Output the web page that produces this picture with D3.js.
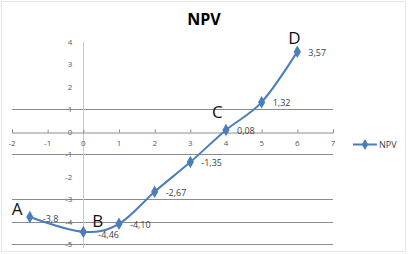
<html>
  <head>
    <script src="https://d3js.org/d3.v7.min.js"></script>
    <style>
      body { margin: 0; background: #fff; }
      text { font-family: "Open Sans", "DejaVu Sans", sans-serif; }
    </style>
  </head>
  <body>
    <svg width="410" height="254"></svg>
    <script>
      // data
      var xValues = [-1.5, 0, 1, 2, 3, 4, 5, 6];
      var npvValues = [-3.8, -4.46, -4.10, -2.67, -1.35, 0.08, 1.32, 3.57];
      var valueLabels = ["-3,8", "-4,46", "-4,10", "-2,67", "-1,35", "0,08", "1,32", "3,57"];
      var xTicks = [-2, -1, 0, 1, 2, 3, 4, 5, 6, 7];
      var yTicks = [-5, -4, -3, -2, -1, 0, 1, 2, 3, 4];
      var gridValues = [1, -1, -3, -4, -5];
      var pointNames = [{name: "A", i: 0}, {name: "B", i: 1}, {name: "C", i: 5}, {name: "D", i: 7}];

      var svg = d3.select("svg");
      var x = d3.scaleLinear().domain([-2, 7]).range([12, 333]);
      var y = d3.scaleLinear().domain([-5, 4]).range([244, 42]);
      var blue = "#4a7ebb";

      // frame
      svg.append("rect")
        .attr("x", 1.5).attr("y", 1.5)
        .attr("width", 404).attr("height", 250)
        .attr("fill", "none")
        .attr("stroke", "#e6e6e6");

      // title
      svg.append("text")
        .attr("x", 204).attr("y", 25)
        .attr("text-anchor", "middle")
        .attr("font-size", "16px")
        .attr("font-weight", "bold")
        .text("NPV");

      // gridlines
      svg.append("g").selectAll("line")
        .data(gridValues)
        .enter().append("line")
        .attr("x1", x(-2)).attr("x2", x(7))
        .attr("y1", function(d) { return Math.round(y(d)) + 0.5; })
        .attr("y2", function(d) { return Math.round(y(d)) + 0.5; })
        .attr("stroke", "#8c8c8c");

      // y axis line
      svg.append("line")
        .attr("x1", Math.round(x(0)) + 0.5).attr("x2", Math.round(x(0)) + 0.5)
        .attr("y1", y(4)).attr("y2", y(-5) + 4)
        .attr("stroke", "#c8c8c8");

      // y tick labels
      svg.append("g").selectAll("text")
        .data(yTicks)
        .enter().append("text")
        .attr("x", x(0) - 11)
        .attr("y", function(d) { return y(d) + 3; })
        .attr("text-anchor", "end")
        .attr("font-size", "8px")
        .attr("fill", "#595959")
        .text(function(d) { return d; });

      // x axis
      var xAxis = svg.append("g")
        .attr("transform", "translate(0," + (Math.round(y(0)) + 0.5) + ")")
        .call(d3.axisTop(x).tickValues(xTicks).tickSize(3).tickFormat(""));
      xAxis.select(".domain").attr("stroke", "#8c8c8c");
      xAxis.selectAll(".tick line").attr("stroke", "#8c8c8c");

      svg.append("g").selectAll("text")
        .data(xTicks)
        .enter().append("text")
        .attr("x", function(d) { return x(d); })
        .attr("y", y(0) + 14)
        .attr("text-anchor", "middle")
        .attr("font-size", "8px")
        .attr("fill", "#595959")
        .text(function(d) { return d; });

      // series
      var pts = xValues.map(function(d, i) { return [d, npvValues[i]]; });
      var line = d3.line()
        .x(function(d) { return x(d[0]); })
        .y(function(d) { return y(d[1]); })
        .curve(d3.curveCardinal.tension(0));
      svg.append("path")
        .datum(pts)
        .attr("d", line)
        .attr("fill", "none")
        .attr("stroke", blue)
        .attr("stroke-width", 2);

      svg.append("g").selectAll("path")
        .data(pts)
        .enter().append("path")
        .attr("transform", function(d) { return "translate(" + x(d[0]) + "," + y(d[1]) + ")"; })
        .attr("d", d3.symbol().type(d3.symbolDiamond).size(45))
        .attr("fill", blue);

      // value labels
      svg.append("g").selectAll("text")
        .data(pts)
        .enter().append("text")
        .attr("x", function(d, i) { return x(d[0]) + (i == 1 ? 15 : (i == 0 ? 13 : 11)); })
        .attr("y", function(d, i) { return y(d[1]) + (i == 1 ? 6 : (i == 0 ? 5 : 4)); })
        .attr("font-size", "9px")
        .attr("fill", "#404040")
        .text(function(d, i) { return valueLabels[i]; });

      // point names
      svg.append("g").selectAll("text")
        .data(pointNames)
        .enter().append("text")
        .attr("x", function(d) {
          var dx = {A: -18, B: 9, C: -14, D: -9};
          return x(xValues[d.i]) + dx[d.name];
        })
        .attr("y", function(d) {
          var dy = {A: -2, B: -5, C: -12, D: -8};
          return y(npvValues[d.i]) + dy[d.name];
        })
        .attr("font-size", "17px")
        .attr("fill", "#111")
        .text(function(d) { return d.name; });

      // legend
      svg.append("line")
        .attr("x1", 353).attr("x2", 377)
        .attr("y1", 144.5).attr("y2", 144.5)
        .attr("stroke", blue).attr("stroke-width", 2);
      svg.append("path")
        .attr("transform", "translate(365,144.5)")
        .attr("d", d3.symbol().type(d3.symbolDiamond).size(35))
        .attr("fill", blue);
      svg.append("text")
        .attr("x", 379).attr("y", 148)
        .attr("font-size", "9px")
        .attr("fill", "#404040")
        .text("NPV");
    </script>
  </body>
</html>
